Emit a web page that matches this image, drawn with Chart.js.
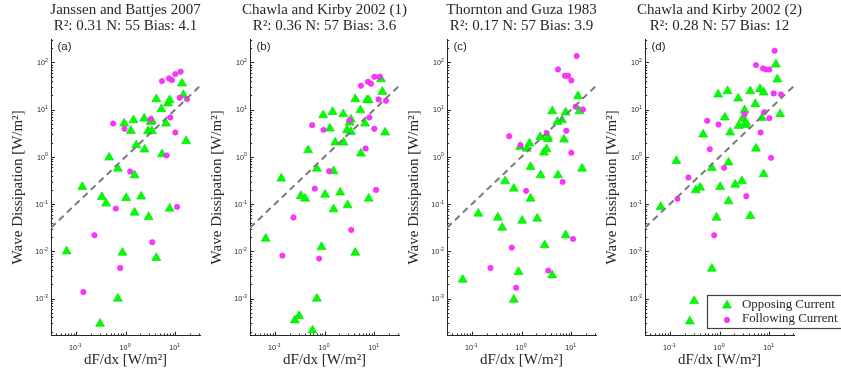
<!DOCTYPE html>
<html><head><meta charset="utf-8">
<script src="https://cdn.jsdelivr.net/npm/chart.js@4.4.1/dist/chart.umd.min.js"></script>
<style>
html,body{margin:0;padding:0;background:#fff;overflow:hidden;width:841px;height:374px;position:relative}
canvas{position:absolute;top:0}
</style></head><body>
<canvas id="c0" width="251" height="374" style="left:0px"></canvas>
<canvas id="c1" width="251" height="374" style="left:199px"></canvas>
<canvas id="c2" width="251" height="374" style="left:396px"></canvas>
<canvas id="c3" width="251" height="374" style="left:594px"></canvas>
<script>
// ---------- text ----------
const panelTitles = ['Janssen and Battjes 2007', 'Chawla and Kirby 2002 (1)', 'Thornton and Guza 1983', 'Chawla and Kirby 2002 (2)'];
const panelStats = ['R\u00b2: 0.31 N: 55 Bias: 4.1', 'R\u00b2: 0.36 N: 57 Bias: 3.6', 'R\u00b2: 0.17 N: 57 Bias: 3.9', 'R\u00b2: 0.28 N: 57 Bias: 12'];
const panelLetters = ['(a)', '(b)', '(c)', '(d)'];
const seriesNames = ['Opposing Current', 'Following Current'];
const xAxisTitle = 'dF/dx [W/m\u00b2]';
const yAxisTitle = 'Wave Dissipation [W/m\u00b2]';

// ---------- axes ----------
const xRange = [0.0316, 31.6];
const yRange = [1.64e-4, 312];
const tickBase = '10';
const xMajorTicks = [0.1, 1, 10];
const xTickExps = ['-1', '0', '1'];
const yMajorTicks = [1e-3, 1e-2, 1e-1, 1, 10, 100];
const yTickExps = ['-3', '-2', '-1', '0', '1', '2'];
const oneToOne = [0.0316, 31.6];

// ---------- data: dF/dx (shared) ----------
const oppX = [0.0653, 0.135, 0.252, 0.308, 0.333, 0.407, 0.468, 0.573, 0.700, 0.700,
              0.869, 0.940, 1.03, 1.28, 1.45, 1.52, 1.52, 1.64, 2.07, 2.38,
              2.42, 2.83, 2.92, 3.20, 3.40, 3.40, 4.16, 4.16, 5.26, 5.42,
              6.53, 7.16, 7.74, 7.74, 13.7, 14.6, 16.6];
const folX = [0.142, 0.237, 0.564, 0.638, 0.780, 0.955, 1.24, 3.20, 3.46, 5.42,
              6.73, 7.50, 7.98, 8.63, 10.07, 10.07, 10.9, 12.3, 12.9, 17.3];

// ---------- data: wave dissipation per panel ----------
const oppY_a = [0.0100, 0.231, null, 2.94e-4, 0.142, 0.103, 0.968, null, 0.566, 0.0010,
                0.0094, 5.08, 0.135, 3.56, 5.98, 0.409, 0.0662, 1.77, 0.145, 6.49,
                1.43, 3.50, 0.0536, 5.52, 5.8, 3.50, 16.7, 0.00724, 10.2, 1.14,
                5.08, 13.5, 15.9, 0.0804, 35.8, 20.3, 2.15];
const folY_a = [0.00138, 0.0219, 5.08, 0.0804, 0.00445, 3.92, 0.489, 6.28, 0.0156, 40.1,
                1.07, 45.7, 6.81, 42.1, 56.4, 3.28, 0.0873, 17.8, 63.2, 16.7];

const oppY_b = [0.0186, 0.348, 3.47e-4, 4.28e-4, 0.149, 0.131, 1.38, 2.13e-4, 0.566, 0.0010,
                0.0124, 7.63, 0.159, 3.98, 8.98, 0.497, 0.0778, 2.01, 0.176, 8.02,
                2.01, 3.67, 0.0946, 5.34, 6.18, 3.39, 16.7, 0.0094, 9.75, 1.18,
                5.08, 15.9, 15.9, 0.131, 44.2, 23.8, 3.28];
const folY_b = [0.00812, 0.0519, 4.69, 0.213, 0.00702, 3.73, 0.497, 5.98, 0.0284, 31.9,
                1.50, 38.8, 6.81, 35.2, 49.5, 3.92, 0.200, 16.4, 49.5, 15.4];

const oppY_c = [0.00252, 0.063, null, null, 0.0519, 0.0318, 0.305, null, 0.213, 9.5e-4,
                0.00366, 1.63, 0.0448, 1.50, 1.92, 0.614, 0.131, null, 0.0494, 2.65,
                0.409, 1.235, 0.01345, 1.45, 2.37, 2.65, 9.28, 0.00311, 5.52, 0.409,
                5.98, 2.33, 8.69, 0.0219, 19.3, 9.28, 0.566];
const folY_c = [null, 0.00445, 2.74, 0.0120, 0.0017, 1.77, 0.1905, 3.22, 0.00391, 70.8,
                0.295, 52.0, 3.56, 52.0, 41.4, 1.22, 0.0183, 11.5, 135.8, 10.07];

const oppY_d = [0.0873, 0.822, 3.30e-4, 8.89e-4, 0.197, 0.224, 2.97, null, 0.585, 0.0043,
                0.0519, 20.9, 0.231, 6.81, 24.6, 0.759, 0.115, 3.28, 0.259, 17.2,
                4.54, 0.305, 6.49, 9.75, 4.69, 5.34, 24.6, 0.0562, 13.1, 1.50,
                27.2, 6.70, 23.1, 0.430, 90.4, 43.5, 8.02];
const folY_d = [0.129, 0.365, 5.79, 1.45, 0.0219, 4.84, 0.585, 8.02, 0.147, 87.5,
                3.28, 74.4, 8.84, 70.8, 70.8, 6.59, 0.953, 22.0, 176, 20.9];

const oppYs = [oppY_a, oppY_b, oppY_c, oppY_d];
const folYs = [folY_a, folY_b, folY_c, folY_d];

// ---------- styles ----------
const INK = '#262626';
const OPP_STYLE = {pointStyle: 'triangle', pointRadius: 5.2, backgroundColor: '#00ff00', borderColor: '#00d800', borderWidth: 0.6};
const FOL_STYLE = {pointStyle: 'circle', pointRadius: 2.7, backgroundColor: '#ff33ff', borderColor: '#f020f0', borderWidth: 0.6};
const BASE_FONT = '7.2px "Liberation Sans"';
const EXP_FONT = '5.2px "Liberation Sans"';

function logTicks(lo, hi) {
  const out = [];
  for (let k = -5; k <= 3; k++) {
    for (let m = 1; m <= 9; m++) {
      const v = m * Math.pow(10, k);
      if (v >= lo * 0.999 && v <= hi * 1.001) out.push(v);
    }
  }
  return out;
}
function isMajor(v) { const l = Math.log10(v); return Math.abs(l - Math.round(l)) < 1e-9; }
function pairs(xs, ys) {
  const out = [];
  xs.forEach((x, i) => { if (ys[i] !== null && ys[i] !== undefined) out.push({x: x, y: ys[i]}); });
  return out;
}
function drawPowLabel(ctx, exp, x, baseY, align) {
  ctx.font = BASE_FONT;
  const wb = ctx.measureText(tickBase).width;
  ctx.font = EXP_FONT;
  const we = ctx.measureText(exp).width;
  const total = wb + we + 0.2;
  let left = align === 'right' ? x - total : x - total / 2;
  ctx.textAlign = 'left'; ctx.textBaseline = 'alphabetic';
  ctx.font = BASE_FONT;
  ctx.fillText(tickBase, left, baseY);
  ctx.font = EXP_FONT;
  ctx.fillText(exp, left + wb + 0.2, baseY - 3.1);
}

function makeDecor(idx) {
  return {
    id: 'decor' + idx,
    afterDraw(chart) {
      const ctx = chart.ctx, a = chart.chartArea, sx = chart.scales.x, sy = chart.scales.y;
      ctx.save();
      ctx.strokeStyle = INK; ctx.lineWidth = 1;
      sy.ticks.forEach(t => {
        const py = Math.round(sy.getPixelForValue(t.value)) + 0.5;
        const len = isMajor(t.value) ? 4 : 2.2;
        ctx.beginPath(); ctx.moveTo(a.left, py); ctx.lineTo(a.left + len, py); ctx.stroke();
      });
      sx.ticks.forEach(t => {
        const px = Math.round(sx.getPixelForValue(t.value)) + 0.5;
        const len = isMajor(t.value) ? 4 : 2.2;
        ctx.beginPath(); ctx.moveTo(px, a.bottom); ctx.lineTo(px, a.bottom - len); ctx.stroke();
      });
      // tick labels (10 with superscript exponent) at the scale's tick positions
      ctx.fillStyle = INK;
      yMajorTicks.forEach((v, i) => {
        const py = sy.getPixelForValue(v);
        drawPowLabel(ctx, yTickExps[i], a.left - 3, py + 2.7, 'right');
      });
      xMajorTicks.forEach((v, i) => {
        const px = sx.getPixelForValue(v);
        drawPowLabel(ctx, xTickExps[i], px - 0.5, a.bottom + 14.3, 'center');
      });
      // titles
      ctx.font = '15px "Liberation Serif"';
      ctx.textAlign = 'center'; ctx.textBaseline = 'alphabetic';
      const cx = (a.left + a.right) / 2;
      ctx.fillText(panelTitles[idx], cx, 13.5);
      ctx.fillText(panelStats[idx], cx, 29.5);
      // panel letter
      ctx.font = '11.5px "Liberation Sans"';
      ctx.textAlign = 'left';
      ctx.fillText(panelLetters[idx], a.left + 6.5, 49.5);
      // legend
      if (idx === 3) {
        const bx = a.left + 62, by = 295.5, bw = 200, bh = 33;
        ctx.fillStyle = '#ffffff';
        ctx.fillRect(bx, by, bw, bh);
        ctx.strokeStyle = '#404040'; ctx.lineWidth = 1.2;
        ctx.strokeRect(bx + 0.5, by, bw, bh);
        const mx = bx + 20;
        const ds = chart.data.datasets;
        const opp = ds.find(d => d.label === seriesNames[0]);
        const fol = ds.find(d => d.label === seriesNames[1]);
        const r = opp.pointRadius, ty = 305.5;
        ctx.beginPath();
        for (let k = 0; k < 3; k++) {
          const ang = k * 2 * Math.PI / 3;
          const px = mx + Math.sin(ang) * r, py = ty - Math.cos(ang) * r;
          if (k === 0) ctx.moveTo(px, py); else ctx.lineTo(px, py);
        }
        ctx.closePath();
        ctx.fillStyle = opp.backgroundColor; ctx.fill();
        ctx.strokeStyle = opp.borderColor; ctx.lineWidth = opp.borderWidth; ctx.stroke();
        ctx.beginPath(); ctx.arc(mx, 320, fol.pointRadius, 0, 2 * Math.PI);
        ctx.fillStyle = fol.backgroundColor; ctx.fill();
        ctx.strokeStyle = fol.borderColor; ctx.lineWidth = fol.borderWidth; ctx.stroke();
        ctx.fillStyle = INK;
        ctx.font = '12.9px "Liberation Serif"';
        ctx.textAlign = 'left'; ctx.textBaseline = 'middle';
        ctx.fillText(seriesNames[0], bx + 35, 304.5);
        ctx.fillText(seriesNames[1], bx + 35, 319);
      }
      ctx.restore();
    }
  };
}

function makeChart(idx) {
  const xTicks = logTicks(xRange[0], xRange[1]);
  const yTicks = logTicks(yRange[0], yRange[1]);
  return new Chart(document.getElementById('c' + idx), {
    type: 'scatter',
    data: {
      datasets: [
        {label: '1:1', data: oneToOne.map(v => ({x: v, y: v})), showLine: true, pointRadius: 0,
         borderColor: '#7a7a7a', borderWidth: 2, borderDash: [6.5, 4.5], order: 0},
        Object.assign({label: seriesNames[1], data: pairs(folX, folYs[idx]), order: 1}, FOL_STYLE),
        Object.assign({label: seriesNames[0], data: pairs(oppX, oppYs[idx]), order: 2}, OPP_STYLE)
      ]
    },
    options: {
      responsive: false, animation: false, devicePixelRatio: 1,
      layout: {padding: {left: 0, right: 51, top: 39, bottom: 0}},
      plugins: {legend: {display: false}, tooltip: {enabled: false}, title: {display: false}},
      scales: {
        x: {
          type: 'logarithmic', min: xRange[0], max: xRange[1],
          grid: {display: false, drawTicks: false},
          border: {display: true, color: INK, width: 1},
          afterFit(s) { s.height = 38.3; },
          afterBuildTicks(s) { s.ticks = xTicks.map(v => ({value: v})); },
          ticks: {display: false, autoSkip: false},
          title: {display: true, text: xAxisTitle, color: INK,
                  font: {family: 'Liberation Serif', size: 15}, padding: {top: 0, bottom: 5}}
        },
        y: {
          type: 'logarithmic', min: yRange[0], max: yRange[1],
          grid: {display: false, drawTicks: false},
          border: {display: true, color: INK, width: 1},
          afterFit(s) { s.width = 51; },
          afterBuildTicks(s) { s.ticks = yTicks.map(v => ({value: v})); },
          ticks: {display: false, autoSkip: false},
          title: {display: true, text: yAxisTitle, color: INK,
                  font: {family: 'Liberation Serif', size: 15}, padding: {top: 9, bottom: 0}}
        }
      }
    },
    plugins: [makeDecor(idx)]
  });
}

[0, 1, 2, 3].forEach(makeChart);
</script>
</body></html>
